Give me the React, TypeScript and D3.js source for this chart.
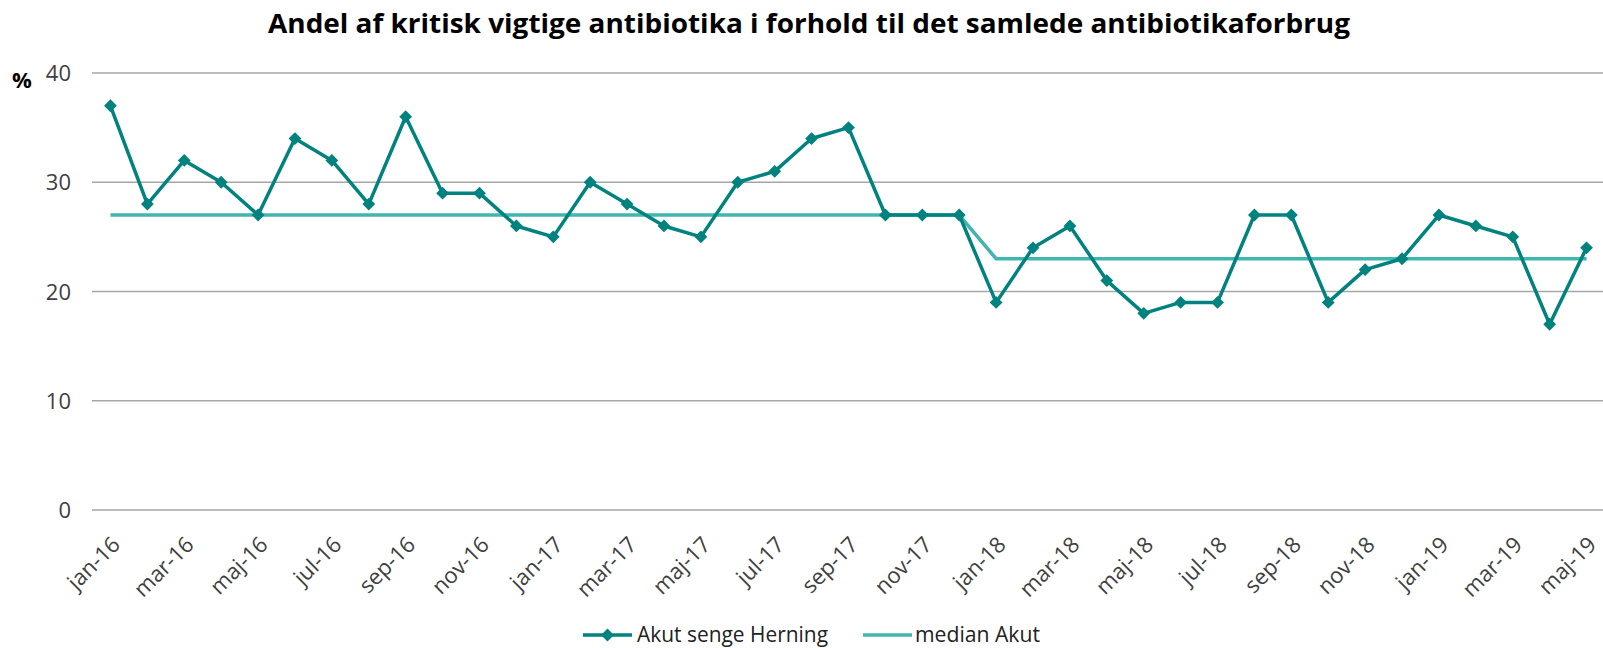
import { useEffect, useMemo } from 'react';
import { line, scaleBand, scaleLinear, symbol, symbolSquare } from 'd3';

const months = [
  'jan-16', 'feb-16', 'mar-16', 'apr-16', 'maj-16', 'jun-16', 'jul-16', 'aug-16', 'sep-16', 'okt-16', 'nov-16', 'dec-16',
  'jan-17', 'feb-17', 'mar-17', 'apr-17', 'maj-17', 'jun-17', 'jul-17', 'aug-17', 'sep-17', 'okt-17', 'nov-17', 'dec-17',
  'jan-18', 'feb-18', 'mar-18', 'apr-18', 'maj-18', 'jun-18', 'jul-18', 'aug-18', 'sep-18', 'okt-18', 'nov-18', 'dec-18',
  'jan-19', 'feb-19', 'mar-19', 'apr-19', 'maj-19',
];

const akutHerning = [
  37, 28, 32, 30, 27, 34, 32, 28, 36, 29, 29, 26,
  25, 30, 28, 26, 25, 30, 31, 34, 35, 27, 27, 27,
  19, 24, 26, 21, 18, 19, 19, 27, 27, 19, 22, 23,
  27, 26, 25, 17, 24,
];

const medianAkut = [
  27, 27, 27, 27, 27, 27, 27, 27, 27, 27, 27, 27,
  27, 27, 27, 27, 27, 27, 27, 27, 27, 27, 27, 27,
  23, 23, 23, 23, 23, 23, 23, 23, 23, 23, 23, 23,
  23, 23, 23, 23, 23,
];

const yTicks = [0, 10, 20, 30, 40];

const MAIN = '#00827e';
const MEDIAN = '#41b5b0';
const FONT = '"Open Sans", sans-serif';

export default function App() {
  useEffect(() => {
    document.body.style.margin = '0';
  }, []);

  const width = 1603;
  const height = 648;
  const left = 92;
  const right = 1605;
  const top = 73;
  const bottom = 510;

  const x = useMemo(() => scaleBand<string>().domain(months).range([left, right]).padding(0), []);
  const y = useMemo(() => scaleLinear().domain([0, 40]).range([bottom, top]), []);
  const cx = (m: string) => (x(m) ?? 0) + x.bandwidth() / 2;

  const path = line<number>().x((_, i) => cx(months[i])).y((d) => y(d));
  const diamond = symbol().type(symbolSquare).size(82)() ?? '';

  return (
    <svg width={width} height={height} style={{ display: 'block' }} fontFamily={FONT}>
      <text x={809} y={33} textAnchor="middle" fontSize={27} fontWeight="bold" fill="#000" textLength={1082} lengthAdjust="spacingAndGlyphs">
        Andel af kritisk vigtige antibiotika i forhold til det samlede antibiotikaforbrug
      </text>

      <text x={12} y={88} fontSize={22} fontWeight="bold" fill="#000">%</text>

      {yTicks.map((t) => (
        <g key={t}>
          <line x1={left} x2={width} y1={y(t)} y2={y(t)} stroke="#a6a6a6" strokeWidth={1.5} />
          <text x={71} y={y(t) + 8} textAnchor="end" fontSize={22} fill="#404040">{t}</text>
        </g>
      ))}

      {months.map((m, i) => (i % 2 === 0 ? (
        <text key={m} transform={`translate(${cx(m) + 11},${bottom + 36}) rotate(-45)`} textAnchor="end" fontSize={22} fill="#404040">
          {m}
        </text>
      ) : null))}

      <path d={path(medianAkut) ?? ''} fill="none" stroke={MEDIAN} strokeWidth={3.5} />
      <path d={path(akutHerning) ?? ''} fill="none" stroke={MAIN} strokeWidth={3.5} strokeLinejoin="round" />
      {akutHerning.map((v, i) => (
        <path key={i} d={diamond} transform={`translate(${cx(months[i])},${y(v)}) rotate(45)`} fill={MAIN} />
      ))}

      <g>
        <line x1={583} x2={632} y1={635} y2={635} stroke={MAIN} strokeWidth={3.5} />
        <path d={diamond} transform="translate(607.5,635) rotate(45)" fill={MAIN} />
        <text x={637} y={642} fontSize={21} fill="#222" textLength={191} lengthAdjust="spacingAndGlyphs">Akut senge Herning</text>
        <line x1={863} x2={912} y1={635} y2={635} stroke={MEDIAN} strokeWidth={3.5} />
        <text x={915} y={642} fontSize={21} fill="#222" textLength={125} lengthAdjust="spacingAndGlyphs">median Akut</text>
      </g>
    </svg>
  );
}
